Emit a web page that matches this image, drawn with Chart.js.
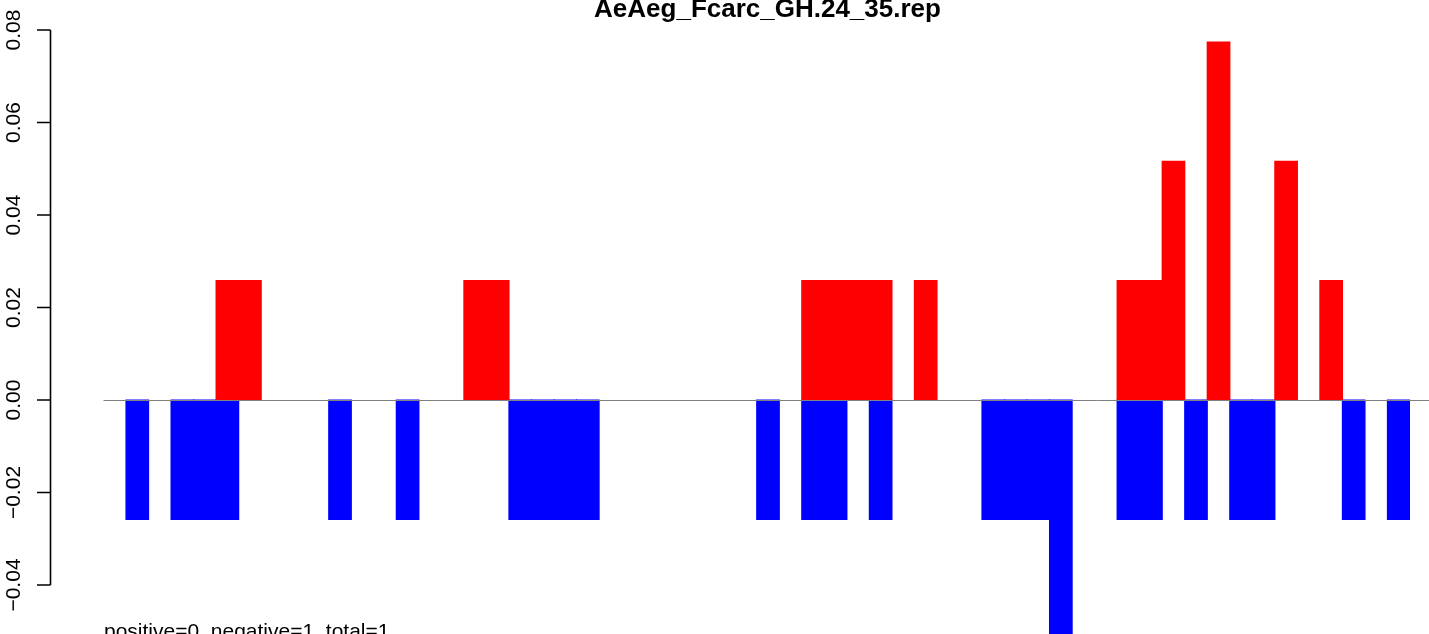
<!DOCTYPE html>
<html>
<head>
<meta charset="utf-8">
<style>
  html, body { margin: 0; padding: 0; background: #ffffff; }
  #wrap { width: 1429px; height: 634px; position: relative; }
</style>
<script src="https://cdn.jsdelivr.net/npm/chart.js@4.4.0/dist/chart.umd.min.js"></script>
</head>
<body>
<div id="wrap"><canvas id="c" width="1429" height="634"></canvas></div>
<script>
// ---- data ----
const titleText = "AeAeg_Fcarc_GH.24_35.rep";
const footerText = "positive=0, negative=1, total=1";
const categories = Array.from({length: 58}, (_, i) => String(i + 1));
const positiveValues = [
  0, 0, 0, 0, 0, 0.0258, 0.0258, 0, 0, 0,
  0, 0, 0, 0, 0, 0, 0.0258, 0.0258, 0, 0,
  0, 0, 0, 0, 0, 0, 0, 0, 0, 0,
  0, 0.0258, 0.0258, 0.0258, 0.0258, 0, 0.0258, 0, 0, 0,
  0, 0, 0, 0, 0, 0.0258, 0.0258, 0.0516, 0, 0.0774,
  0, 0, 0.0516, 0, 0.0258, 0, 0, 0
];
const negativeValues = [
  0, -0.0258, 0, -0.0258, -0.0258, -0.0258, 0, 0, 0, 0,
  -0.0258, 0, 0, -0.0258, 0, 0, 0, 0, -0.0258, -0.0258,
  -0.0258, -0.0258, 0, 0, 0, 0, 0, 0, 0, -0.0258,
  0, -0.0258, -0.0258, 0, -0.0258, 0, 0, 0, 0, -0.0258,
  -0.0258, -0.0258, -0.0516, 0, 0, -0.0258, -0.0258, 0, -0.0258, 0,
  -0.0258, -0.0258, 0, 0, 0, -0.0258, 0, -0.0258
];
const yTickValues = [-0.04, -0.02, 0.00, 0.02, 0.04, 0.06, 0.08];
const yTickLabels = ["\u22120.04", "\u22120.02", "0.00", "0.02", "0.04", "0.06", "0.08"];

const FONT = '"Liberation Sans", Arial, Helvetica, sans-serif';
const nz = v => (v === 0 ? null : v);

const decor = {
  id: 'decor',
  afterDatasetsDraw(chart) {
    const ctx = chart.ctx;
    const y = chart.scales.y;
    const x = chart.scales.x;
    ctx.save();
    const y0 = Math.round(y.getPixelForValue(0)) + 0.5;
    ctx.strokeStyle = '#808080';
    ctx.lineWidth = 1;
    ctx.beginPath();
    ctx.moveTo(x.left, y0);
    ctx.lineTo(chart.width, y0);
    ctx.stroke();
    ctx.restore();
  },
  afterDraw(chart) {
    const ctx = chart.ctx;
    const y = chart.scales.y;
    ctx.save();
    const ax = 50.5;
    const yTop = y.getPixelForValue(yTickValues[yTickValues.length - 1]);
    const yBot = y.getPixelForValue(yTickValues[0]);
    ctx.strokeStyle = '#000000';
    ctx.lineWidth = 1.6;
    ctx.beginPath();
    ctx.moveTo(ax, yTop);
    ctx.lineTo(ax, yBot);
    yTickValues.forEach(v => {
      const py = y.getPixelForValue(v);
      ctx.moveTo(ax, py);
      ctx.lineTo(37, py);
    });
    ctx.stroke();
    ctx.fillStyle = '#000000';
    ctx.font = '21px ' + FONT;
    ctx.textAlign = 'center';
    ctx.textBaseline = 'alphabetic';
    yTickValues.forEach((v, i) => {
      const py = y.getPixelForValue(v);
      ctx.save();
      ctx.translate(20, py);
      ctx.rotate(-Math.PI / 2);
      ctx.fillText(yTickLabels[i], 0, 0);
      ctx.restore();
    });
    ctx.font = 'bold 26px ' + FONT;
    ctx.textAlign = 'center';
    ctx.fillText(titleText, 767.5, 17);
    ctx.font = '21px ' + FONT;
    ctx.textAlign = 'left';
    ctx.fillText(footerText, 104, 637.5);
    ctx.restore();
  }
};

const pxPerUnit = 4625;
new Chart(document.getElementById('c'), {
  type: 'bar',
  data: {
    labels: categories,
    datasets: [
      { data: positiveValues.map(nz), backgroundColor: '#FF0000', borderWidth: 0, grouped: false,
        barPercentage: 1.0, categoryPercentage: 1.0, inflateAmount: 0.6 },
      { data: negativeValues.map(nz), backgroundColor: '#0000FF', borderWidth: 0, grouped: false,
        barPercentage: 1.0, categoryPercentage: 1.0, inflateAmount: 0.6 }
    ]
  },
  options: {
    responsive: false,
    animation: false,
    events: [],
    layout: { padding: { left: 103.5, right: 19, top: 0, bottom: 0 } },
    plugins: { legend: { display: false }, tooltip: { enabled: false }, title: { display: false } },
    scales: {
      x: { display: false, offset: true, grid: { display: false } },
      y: { display: false, min: -234 / pxPerUnit, max: 400 / pxPerUnit, grid: { display: false } }
    }
  },
  plugins: [decor]
});
</script>
</body>
</html>
